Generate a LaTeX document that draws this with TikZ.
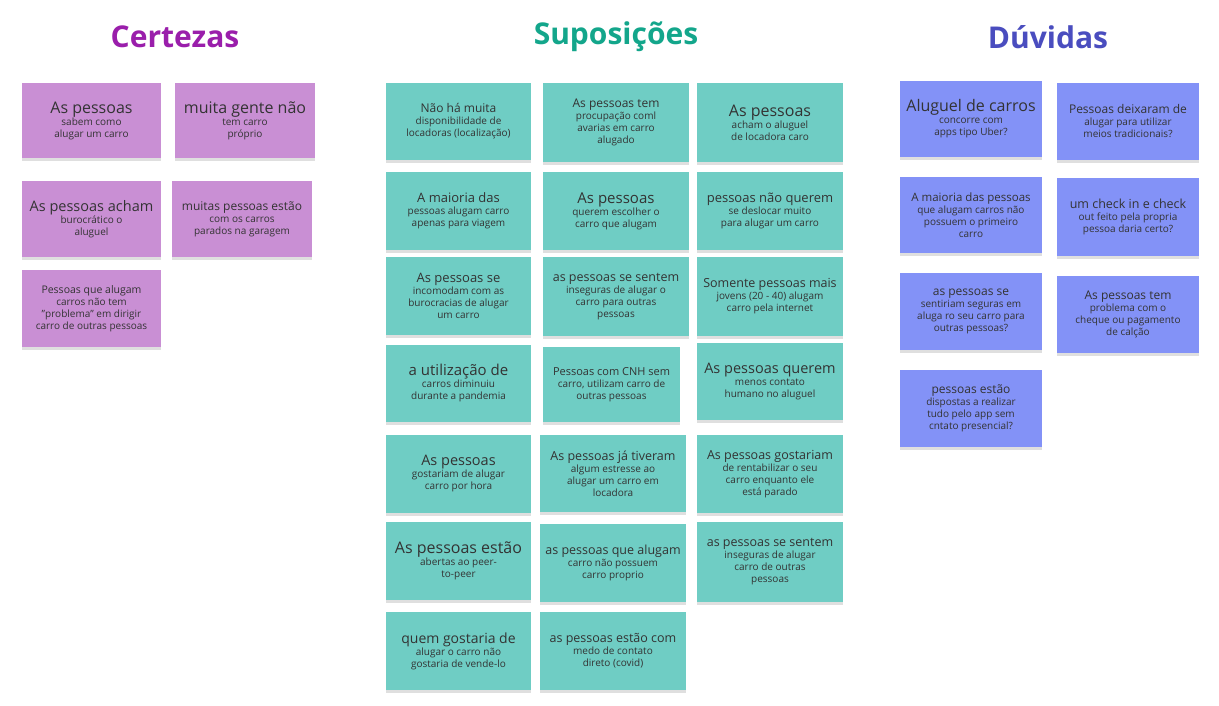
\documentclass[tikz,border=0pt]{standalone}
\usepackage{fontspec}
\setmainfont{Open Sans}
\usetikzlibrary{shadows}
\definecolor{cpur}{HTML}{C98FD4}
\definecolor{cteal}{HTML}{6FCDC4}
\definecolor{cblue}{HTML}{8392F7}
\definecolor{tpur}{HTML}{9A1EAB}
\definecolor{tteal}{HTML}{13A68B}
\definecolor{tblue}{HTML}{4A4DBF}
\definecolor{ctext}{HTML}{333333}
\tikzset{
  note/.style={inner sep=0pt, align=center, text=ctext, draw=none,
    drop shadow={opacity=0.25, shadow xshift=0pt, shadow yshift=-3pt}},
  purnote/.style={note, fill=cpur},
  tealnote/.style={note, fill=cteal},
  bluenote/.style={note, fill=cblue},
  ttl/.style={font=\fontsize{30}{36}\selectfont\bfseries}
}
\newcommand\stk[8]{%
  \pgfmathsetmacro\cx{(#3+#5)/2}\pgfmathsetmacro\cy{(#4+#6)/2}%
  \pgfmathsetmacro\ww{#5-#3}\pgfmathsetmacro\hh{#6-#4}%
  \node[#1, minimum width=\ww pt, minimum height=\hh pt] (#2) at (\cx pt,-\cy pt)
    {\fontsize{#7pt}{\the\dimexpr #7pt*138/100\relax}\selectfont #8};}
\begin{document}
\begin{tikzpicture}[x=1pt,y=1pt]
\useasboundingbox[fill=white] (0,0) rectangle (1219,-706);
\node[ttl,text=tpur] (t1) at (175,-37) {Certezas};
\node[ttl,text=tteal] (t2) at (616,-37) {Suposições};
\node[ttl,text=tblue] (t3) at (1048,-37) {Dúvidas};
% Certezas
\stk{purnote}{c1}{22}{83}{161}{158}{16}{As pessoas\\sabem como\\alugar um carro}
\stk{purnote}{c2}{175}{83}{315}{158}{16}{muita gente não\\tem carro\\próprio}
\stk{purnote}{c3}{22}{181}{161}{257}{14.5}{As pessoas acham\\burocrático o\\aluguel}
\stk{purnote}{c4}{172}{181}{312}{257}{12}{muitas pessoas estão\\com os carros\\parados na garagem}
\stk{purnote}{c5}{22}{270}{161}{347}{10.5}{Pessoas que alugam\\carros não tem\\"problema" em dirigir\\carro de outras pessoas}
% Suposicoes col1
\stk{tealnote}{s11}{386}{83}{531}{160}{12}{Não há muita\\disponibilidade de\\locadoras (localização)}
\stk{tealnote}{s12}{386}{172}{531}{250}{13}{A maioria das\\pessoas alugam carro\\apenas para viagem}
\stk{tealnote}{s13}{386}{257}{531}{335}{13}{As pessoas se\\incomodam com as\\burocracias de alugar\\um carro}
\stk{tealnote}{s14}{386}{345}{531}{422}{15}{a utilização de\\carros diminuiu\\durante a pandemia}
\stk{tealnote}{s15}{386}{435}{531}{513}{14.5}{As pessoas\\gostariam de alugar\\carro por hora}
\stk{tealnote}{s16}{386}{522}{531}{600}{16}{As pessoas estão\\abertas ao peer-\\to-peer}
\stk{tealnote}{s17}{386}{612}{531}{690}{14}{quem gostaria de\\alugar o carro não\\gostaria de vende-lo}
% col2
\stk{tealnote}{s21}{543}{83}{689}{162}{12}{As pessoas tem\\procupação coml\\avarias em carro\\alugado}
\stk{tealnote}{s22}{543}{172}{689}{250}{15}{As pessoas\\querem escolher o\\carro que alugam}
\stk{tealnote}{s23}{543}{257}{689}{336}{12.5}{as pessoas se sentem\\inseguras de alugar o\\carro para outras\\pessoas}
\stk{tealnote}{s24}{543}{347}{680}{422}{11}{Pessoas com CNH sem\\carro, utilizam carro de\\outras pessoas}
\stk{tealnote}{s25}{540}{435}{686}{512}{12.5}{As pessoas já tiveram\\algum estresse ao\\alugar um carro em\\locadora}
\stk{tealnote}{s26}{540}{524}{686}{602}{12.5}{as pessoas que alugam\\carro não possuem\\carro proprio}
\stk{tealnote}{s27}{540}{612}{686}{690}{12.5}{as pessoas estão com\\medo de contato\\direto (covid)}
% col3
\stk{tealnote}{s31}{697}{83}{843}{162}{16}{As pessoas\\acham o aluguel\\de locadora caro}
\stk{tealnote}{s32}{697}{172}{843}{250}{13}{pessoas não querem\\se deslocar muito\\para alugar um carro}
\stk{tealnote}{s33}{697}{257}{843}{336}{12.5}{Somente pessoas mais\\jovens (20 - 40) alugam\\carro pela internet}
\stk{tealnote}{s34}{697}{343}{843}{420}{14.5}{As pessoas querem\\menos contato\\humano no aluguel}
\stk{tealnote}{s35}{697}{435}{843}{513}{12.5}{As pessoas gostariam\\de rentabilizar o seu\\carro enquanto ele\\está parado}
\stk{tealnote}{s36}{697}{522}{843}{602}{12.5}{as pessoas se sentem\\inseguras de alugar\\carro de outras\\pessoas}
% Duvidas
\stk{bluenote}{d11}{900}{81}{1042}{157}{16}{Aluguel de carros\\concorre com\\apps tipo Uber?}
\stk{bluenote}{d12}{900}{177}{1042}{253}{11.5}{A maioria das pessoas\\que alugam carros não\\possuem o primeiro\\carro}
\stk{bluenote}{d13}{900}{273}{1042}{350}{12}{as pessoas se\\sentiriam seguras em\\aluga ro seu carro para\\outras pessoas?}
\stk{bluenote}{d14}{900}{370}{1042}{447}{12}{pessoas estão\\dispostas a realizar\\tudo pelo app sem\\cntato presencial?}
\stk{bluenote}{d21}{1057}{83}{1199}{160}{12}{Pessoas deixaram de\\alugar para utilizar\\meios tradicionais?}
\stk{bluenote}{d22}{1057}{178}{1199}{256}{12.5}{um check in e check\\out feito pela propria\\pessoa daria certo?}
\stk{bluenote}{d23}{1057}{276}{1199}{353}{12}{As pessoas tem\\problema com o\\cheque ou pagamento\\de calção}
\end{tikzpicture}
\end{document}
